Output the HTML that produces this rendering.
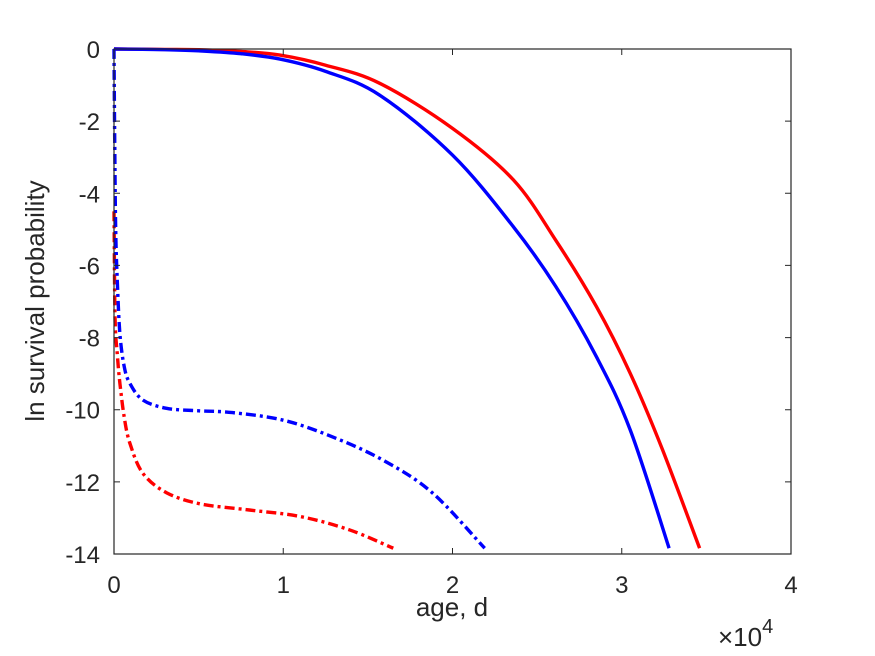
<!DOCTYPE html>
<html><head><meta charset="utf-8"><style>
body{margin:0;background:#fff;}
svg{display:block;font-family:"Liberation Sans",sans-serif;}
</style></head><body>
<svg id="chart" width="875" height="656">
<rect width="875" height="656" fill="#fff"/>
<g id="lines"></g>
<rect x="114" y="49" width="677" height="505" fill="none" stroke="#262626" stroke-width="1.2"/>
<g id="ticks"></g>
<text x="44" y="301" transform="rotate(-90 44 301)" text-anchor="middle" font-size="26" fill="#262626">ln survival probability</text>
<text x="452" y="616" text-anchor="middle" font-size="26" fill="#262626">age, d</text>
<text x="718" y="646" font-size="26" fill="#262626">×10<tspan dy="-13" font-size="20">4</tspan></text>
</svg>
<script>
const xTicks=[0,1,2,3,4];
const yTicks=[0,-2,-4,-6,-8,-10,-12,-14];
const redSolidT=[0,0.3,0.5,0.75,0.98,1.25,1.57,2.0,2.36,2.61,2.85,3.05,3.24,3.46];
const redSolidV=[0,-0.01,-0.02,-0.07,-0.17,-0.45,-0.95,-2.2,-3.63,-5.3,-7.14,-8.99,-11.1,-13.84];
const blueSolidT=[0,0.3,0.5,0.75,0.98,1.25,1.57,2.0,2.36,2.61,2.85,3.05,3.28];
const blueSolidV=[0,-0.02,-0.05,-0.13,-0.28,-0.62,-1.28,-2.94,-4.93,-6.58,-8.53,-10.56,-13.84];
const blueDashT=[0,0.004,0.01,0.02,0.035,0.06,0.094,0.17,0.31,0.5,0.70,1.0,1.29,1.59,1.88,2.19];
const blueDashV=[0,-2.5,-5.0,-6.5,-7.9,-8.8,-9.27,-9.73,-9.96,-10.03,-10.08,-10.29,-10.75,-11.4,-12.3,-13.84];
const redDashT=[0,0.006,0.02,0.035,0.06,0.094,0.17,0.31,0.51,0.80,1.10,1.39,1.65];
const redDashV=[-4.5,-7.42,-8.5,-9.27,-10.2,-10.93,-11.76,-12.3,-12.61,-12.78,-12.96,-13.33,-13.84];
const X0=114,X1=791,Y0=49,Y1=554;
function sx(t){return X0+(t-0)/(4-0)*(X1-X0);}
function sy(v){return Y0+(0-v)/(14)*(Y1-Y0);}
const NS="http://www.w3.org/2000/svg";
const lines=document.getElementById('lines');
function draw(T,V,color,dash,name){
  const p=document.createElementNS(NS,'path');
  const P=T.map((t,i)=>[sx(t),sy(V[i])]);
  let d='M'+P[0][0].toFixed(1)+','+P[0][1].toFixed(1);
  for(let i=0;i<P.length-1;i++){
    const p0=P[Math.max(0,i-1)],p1=P[i],p2=P[i+1],p3=P[Math.min(P.length-1,i+2)];
    const c1=[p1[0]+(p2[0]-p0[0])/6,p1[1]+(p2[1]-p0[1])/6];
    const c2=[p2[0]-(p3[0]-p1[0])/6,p2[1]-(p3[1]-p1[1])/6];
    d+='C'+c1[0].toFixed(1)+','+c1[1].toFixed(1)+' '+c2[0].toFixed(1)+','+c2[1].toFixed(1)+' '+p2[0].toFixed(1)+','+p2[1].toFixed(1);
  }
  p.setAttribute('d',d);p.setAttribute('fill','none');p.setAttribute('stroke',color);
  p.setAttribute('stroke-width','3.4');p.setAttribute('stroke-linejoin','round');
  if(dash)p.setAttribute('stroke-dasharray',dash);
  
  
  lines.appendChild(p);
}
draw(redSolidT,redSolidV,'#ff0000',null,'red-solid-line');
draw(blueSolidT,blueSolidV,'#0000ff',null,'blue-solid-line');
draw(redDashT,redDashV,'#ff0000','10,4,3,4','red-dashdot-line');
draw(blueDashT,blueDashV,'#0000ff','10,4,3,4','blue-dashdot-line');
const tg=document.getElementById('ticks');
xTicks.forEach(t=>{
  const x=sx(t);
  const l=document.createElementNS(NS,'path');
  l.setAttribute('d',`M${x},${Y1}v-6M${x},${Y0}v6`);l.setAttribute('stroke','#262626');l.setAttribute('stroke-width','1');
  
  
  tg.appendChild(l);
  const tx=document.createElementNS(NS,'text');
  tx.setAttribute('x',x);tx.setAttribute('y',Y1+39);tx.setAttribute('text-anchor','middle');
  tx.setAttribute('font-size','24');tx.setAttribute('fill','#262626');tx.textContent=t;
  
  
  tg.appendChild(tx);
});
yTicks.forEach(v=>{
  const y=sy(v);
  const l=document.createElementNS(NS,'path');
  l.setAttribute('d',`M${X0},${y}h6M${X1},${y}h-6`);l.setAttribute('stroke','#262626');l.setAttribute('stroke-width','1');
  
  
  tg.appendChild(l);
  const tx=document.createElementNS(NS,'text');
  tx.setAttribute('x',X0-14);tx.setAttribute('y',y+9);tx.setAttribute('text-anchor','end');
  tx.setAttribute('font-size','24');tx.setAttribute('fill','#262626');tx.textContent=v;
  
  
  tg.appendChild(tx);
});
</script>
</body></html>
